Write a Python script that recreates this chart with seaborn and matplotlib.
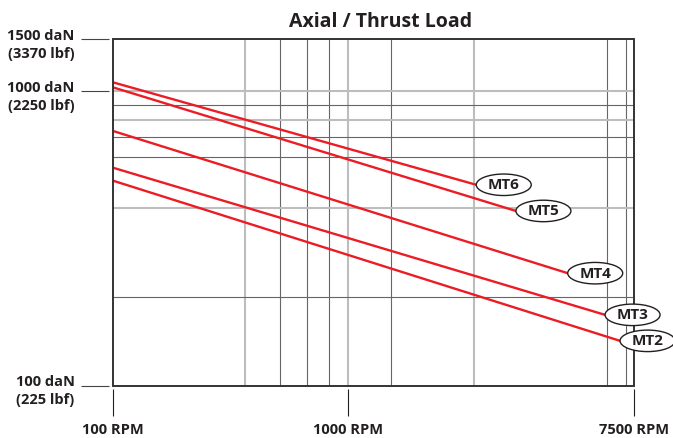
import numpy as np
import pandas as pd
import matplotlib
matplotlib.use("Agg")
import matplotlib.pyplot as plt
import matplotlib.transforms as mtransforms
from matplotlib.patches import Ellipse, Rectangle
from matplotlib.ticker import NullLocator
import seaborn as sns

# ==================== DATA ====================
models = ["MT6", "MT5", "MT4", "MT3", "MT2"]
rpm_start = [100, 100, 100, 100, 100]
rpm_end = [2030, 2820, 4330, 5900, 6680]
load_start = [1072, 1031, 733, 550, 497]   # daN at 100 RPM
load_end = [481, 392, 241, 174, 142]       # daN at end of curve

x_ticks = [100, 700, 7500]
x_ticklabels = ["100 RPM", "1000 RPM", "7500 RPM"]
y_ticks = [1500, 1000, 100]
y_ticklabels = ["1500 daN\n(3370 lbf)", "1000 daN\n(2250 lbf)", "100 daN\n(225 lbf)"]

x_grid_light = [300, 700, 2000]
x_grid_dark = [400, 500, 600, 1000, 6000, 7000]
y_grid_light = [400, 800, 1000]
y_grid_dark = [200, 600, 700, 900]

# ==================== STYLE ====================
sns.set_style("white")
plt.rcParams["font.family"] = ["Open Sans", "DejaVu Sans"]
plt.rcParams["font.weight"] = "bold"

RED = "#ec1c24"
DARK = "#231f20"

fig = plt.figure(figsize=(6.73, 4.38), dpi=100)
ax = fig.add_axes([0.1675, 0.1194, 0.7746, 0.7909])

# ==================== GRID ====================
for xv in x_grid_light:
    ax.axvline(xv, color="#bdbdbd", lw=1.5, zorder=1)
for xv in x_grid_dark:
    ax.axvline(xv, color="#666666", lw=0.8, zorder=1)
for yv in y_grid_light:
    ax.axhline(yv, color="#bdbdbd", lw=1.5, zorder=1)
for yv in y_grid_dark:
    ax.axhline(yv, color="#666666", lw=0.8, zorder=1)

# ==================== CURVES ====================
rows = []
for m, x0, x1, y0, y1 in zip(models, rpm_start, rpm_end, load_start, load_end):
    rows.append({"model": m, "rpm": x0, "load": y0})
    rows.append({"model": m, "rpm": x1, "load": y1})
df = pd.DataFrame(rows)

for m in models:
    d = df[df["model"] == m]
    sns.lineplot(data=d, x="rpm", y="load", color=RED, lw=1.7, ax=ax,
                 estimator=None, sort=False, zorder=3, legend=False)

ax.set_xscale("log")
ax.set_yscale("log")
ax.set_xlim(100, 7500)
ax.set_ylim(100, 1500)
ax.xaxis.set_minor_locator(NullLocator())
ax.yaxis.set_minor_locator(NullLocator())

# labels in ellipses at the curve ends
for m, x1, y1 in zip(models, rpm_end, load_end):
    tr = fig.dpi_scale_trans + mtransforms.ScaledTranslation(x1, y1, ax.transData)
    ell = Ellipse((0.275, 0.0), 0.55, 0.215, transform=tr, facecolor="white",
                  edgecolor=DARK, lw=1.0, zorder=5, clip_on=False)
    ax.add_patch(ell)
    ax.text(0.275, -0.005, m, transform=tr, ha="center", va="center",
            fontsize=11, fontweight="bold", color=DARK, zorder=6, clip_on=False)

# ==================== AXES / TICKS ====================
for side in ["left", "bottom"]:
    ax.spines[side].set_position(("outward", 2.5))
for s in ax.spines.values():
    s.set_visible(False)
ax.add_patch(Rectangle((0, 0), 1, 1, transform=ax.transAxes, fill=False,
                       edgecolor="#333333", lw=1.4, zorder=4, clip_on=False))

ax.set_xticks(x_ticks)
ax.set_xticklabels(x_ticklabels)
ax.set_yticks(y_ticks)
ax.set_yticklabels([""] * len(y_ticks))
ax.tick_params(axis="x", bottom=True, direction="out", length=19.5, width=0.8,
               color=DARK, pad=5, labelsize=10.5, labelcolor=DARK)
ax.tick_params(axis="y", left=True, direction="out", length=20, width=0.8,
               color="#444444", labelleft=False)
ax.set_xlabel("")
ax.set_ylabel("")

for v, lab in zip(y_ticks, y_ticklabels):
    ax.annotate(lab, xy=(0, v), xycoords=("axes fraction", "data"),
                xytext=(-27.5, -4), textcoords="offset points",
                ha="right", va="center", multialignment="center",
                fontsize=10.5, fontweight="bold", color=DARK, linespacing=1.35)

ax.set_title("Axial / Thrust Load", fontsize=14, fontweight="bold",
             color=DARK, x=0.513, pad=9)

fig.savefig("out.png", dpi=100)
